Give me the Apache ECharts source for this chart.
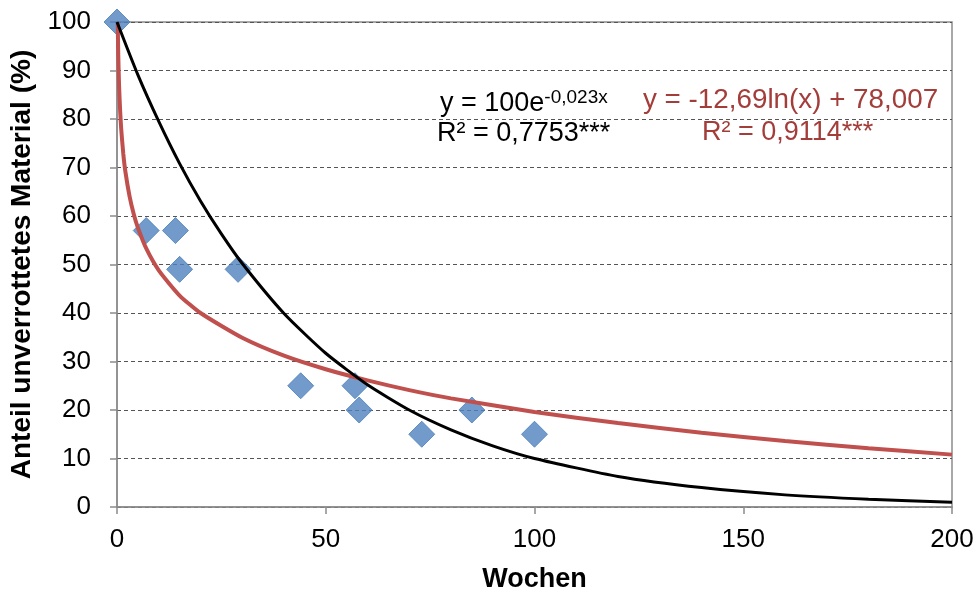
<!DOCTYPE html>
<html><head><meta charset="utf-8">
<script src="https://cdn.jsdelivr.net/npm/echarts@6/dist/echarts.min.js"></script>
<style>html,body{margin:0;padding:0;background:#fff}#c{width:978px;height:593px}</style>
</head><body><div id="c"></div>
<script>
// Observed data (weeks, % undecomposed material)
const weeks = [0, 7, 14, 15, 29, 44, 57, 58, 73, 85, 100];
const remaining = [100, 57, 57, 49, 49, 25, 25, 20, 15, 20, 15];
// Exponential trend line points
const expX = [0, 5, 10, 15, 20, 25, 30, 40, 50, 60, 70, 80, 90, 100, 120, 140, 160, 180, 200];
const expY = [100, 89.1, 79.5, 70.8, 63.1, 56.3, 50.2, 39.9, 31.7, 25.2, 20.0, 15.9, 12.6, 10.0, 6.3, 4.0, 2.5, 1.6, 1.0];
// Logarithmic trend line points
const logX = [0.18, 0.3, 0.5, 0.75, 1, 1.5, 2, 3, 4, 5, 7, 10, 15, 20, 30, 40, 50, 60, 70, 80, 100, 120, 140, 160, 180, 200];
const logY = [99.8, 93.3, 86.8, 81.7, 78.0, 72.9, 69.2, 64.1, 60.4, 57.6, 53.3, 48.8, 43.6, 40.0, 34.9, 31.2, 28.4, 26.1, 24.1, 22.4, 19.6, 17.3, 15.3, 13.6, 12.1, 10.8];
const yTicks = [0, 10, 20, 30, 40, 50, 60, 70, 80, 90, 100];
const xTicks = [0, 50, 100, 150, 200];

const font = "'Liberation Sans', Arial, sans-serif";
const chart = echarts.init(document.getElementById('c'), null, {renderer: 'canvas'});
chart.setOption({
  animation: false,
  grid: {left: 117, right: 26, top: 22, bottom: 86, containLabel: false, outerBoundsMode: 'none',
         show: true, borderColor: '#8c8c8c', borderWidth: 1.5, backgroundColor: 'transparent'},
  xAxis: {
    type: 'value', min: xTicks[0], max: xTicks[xTicks.length - 1], interval: 50,
    name: 'Wochen', nameLocation: 'middle', nameGap: 59,
    nameTextStyle: {fontFamily: font, fontSize: 27, fontWeight: 'bold', color: '#000'},
    axisLine: {show: true, lineStyle: {color: '#8c8c8c', width: 1.5}},
    axisTick: {show: true, length: 7, lineStyle: {color: '#8c8c8c', width: 1.5}},
    axisLabel: {fontFamily: font, fontSize: 26, color: '#000', margin: 20},
    splitLine: {show: false}
  },
  yAxis: {
    type: 'value', min: yTicks[0], max: yTicks[yTicks.length - 1], interval: 10,
    name: 'Anteil unverrottetes Material (%)', nameLocation: 'middle', nameGap: 80,
    nameTextStyle: {fontFamily: font, fontSize: 28, fontWeight: 'bold', color: '#000'},
    axisLine: {show: true, lineStyle: {color: '#8c8c8c', width: 1.5}},
    axisTick: {show: true, length: 7, lineStyle: {color: '#8c8c8c', width: 1.5}},
    axisLabel: {fontFamily: font, fontSize: 26, color: '#000', margin: 26},
    splitLine: {show: true, lineStyle: {color: '#555', width: 1, type: [4, 3]}}
  },
  series: [
    {
      type: 'scatter', data: weeks.map((x, i) => [x, remaining[i]]),
      symbol: 'diamond', symbolSize: [26, 26],
      itemStyle: {color: '#4F81BD', borderColor: '#4A7EBB', borderWidth: 1}, z: 1
    },
    {
      type: 'line', data: logX.map((x, i) => [x, logY[i]]), showSymbol: false,
      smooth: 0.2, lineStyle: {color: '#C0504D', width: 4}, z: 2
    },
    {
      type: 'line', data: expX.map((x, i) => [x, expY[i]]), showSymbol: false,
      smooth: 0.2, lineStyle: {color: '#000', width: 3}, z: 3
    }
  ],
  graphic: [
    {
      type: 'text', left: 440, top: 88, z: 10,
      style: {
        rich: {
          a: {fontFamily: font, fontSize: 27, fill: '#000'},
          s: {fontFamily: font, fontSize: 19, fill: '#000', verticalAlign: 'top', padding: [0, 0, 12, 0]}
        },
        text: '{a|y = 100e}{s|-0,023x}'
      }
    },
    {type: 'text', left: 437, top: 120, z: 10, style: {text: 'R² = 0,7753***', fontFamily: font, fontSize: 27, fill: '#000'}},
    {type: 'text', left: 643, top: 86, z: 10, style: {text: 'y = -12,69ln(x) + 78,007', fontFamily: font, fontSize: 27.8, fill: '#A33D3A'}},
    {type: 'text', left: 702, top: 119, z: 10, style: {text: 'R² = 0,9114***', fontFamily: font, fontSize: 27, fill: '#A33D3A'}}
  ]
});
</script></body></html>
